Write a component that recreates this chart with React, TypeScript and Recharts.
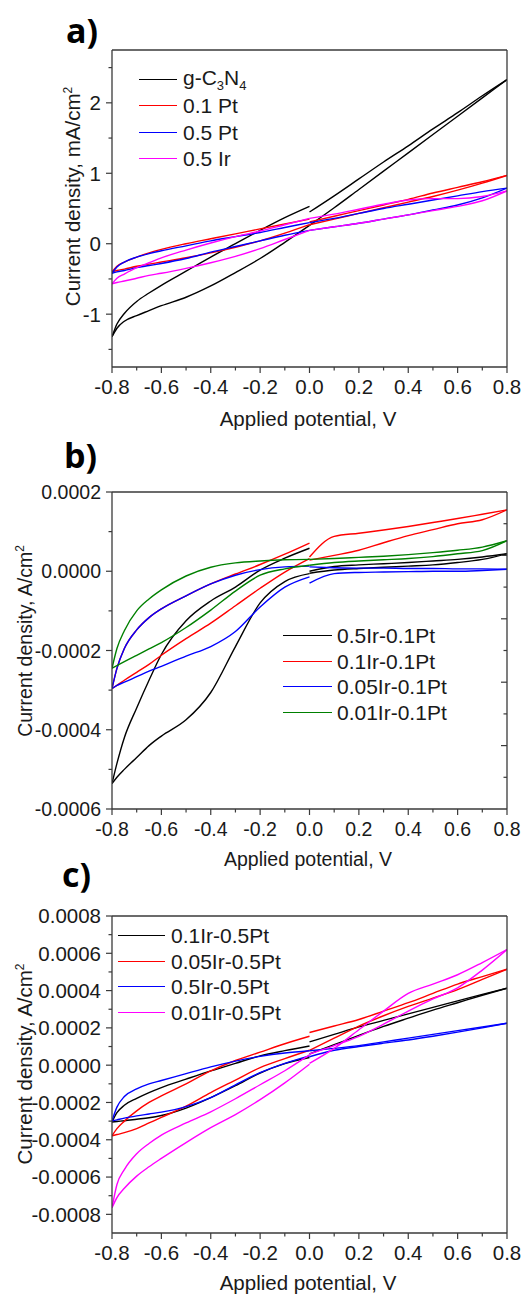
import React from 'react';
import { LineChart, Line, XAxis, YAxis, Legend } from 'recharts';

const FONT = '"Liberation Sans", Arial, sans-serif';
const AXIS = '#3a3a3a';
const INK = '#1a1a1a';

// applied potential grid (V); 0 is listed twice: end of the left half, start of the right half
const POTENTIAL = [-0.8, -0.78, -0.75, -0.7, -0.65, -0.6, -0.5, -0.4, -0.3, -0.2, -0.1, 0, 0, 0.1, 0.2, 0.3, 0.4, 0.5, 0.6, 0.7, 0.8];
const SPLIT = 12;
const X_TICKS = [-0.8, -0.7, -0.6, -0.5, -0.4, -0.3, -0.2, -0.1, 0, 0.1, 0.2, 0.3, 0.4, 0.5, 0.6, 0.7, 0.8];

// a) current density, mA/cm2 (two sweep branches per sample)
const gcnUp = [-1.32, -1.14, -0.99, -0.82, -0.7, -0.59, -0.39, -0.19, 0.0, 0.19, 0.37, 0.53, 0.45, 0.68, 0.92, 1.16, 1.39, 1.63, 1.86, 2.1, 2.33];
const gcnLo = [-1.32, -1.2, -1.1, -1.02, -0.95, -0.88, -0.76, -0.6, -0.41, -0.21, 0.02, 0.26, 0.26, 0.51, 0.77, 1.03, 1.29, 1.55, 1.81, 2.07, 2.33];
const pt01Up = [-0.4, -0.32, -0.26, -0.19, -0.13, -0.08, 0.0, 0.07, 0.14, 0.21, 0.28, 0.35, 0.31, 0.39, 0.47, 0.55, 0.63, 0.72, 0.8, 0.88, 0.97];
const pt01Lo = [-0.4, -0.38, -0.36, -0.32, -0.29, -0.26, -0.2, -0.13, -0.05, 0.04, 0.15, 0.27, 0.27, 0.35, 0.43, 0.51, 0.59, 0.67, 0.76, 0.86, 0.97];
const pt05Up = [-0.42, -0.33, -0.26, -0.19, -0.14, -0.1, -0.03, 0.04, 0.1, 0.16, 0.23, 0.3, 0.3, 0.36, 0.43, 0.5, 0.56, 0.62, 0.68, 0.74, 0.79];
const pt05Lo = [-0.42, -0.4, -0.38, -0.34, -0.31, -0.28, -0.21, -0.12, -0.04, 0.04, 0.12, 0.19, 0.19, 0.24, 0.29, 0.35, 0.41, 0.48, 0.55, 0.65, 0.79];
const ir05Up = [-0.57, -0.49, -0.43, -0.34, -0.27, -0.2, -0.09, 0.01, 0.1, 0.18, 0.27, 0.36, 0.36, 0.42, 0.49, 0.56, 0.62, 0.64, 0.64, 0.67, 0.75];
const ir05Lo = [-0.57, -0.55, -0.53, -0.49, -0.45, -0.42, -0.35, -0.27, -0.18, -0.07, 0.06, 0.19, 0.19, 0.24, 0.29, 0.35, 0.41, 0.47, 0.53, 0.61, 0.75];

// b) current density, x1e-4 A/cm2
const b05IrUp = [-5.36, -4.85, -4.2, -3.45, -2.75, -2.1, -1.25, -0.75, -0.4, 0.03, 0.33, 0.58, 0.0, 0.12, 0.16, 0.19, 0.22, 0.26, 0.3, 0.36, 0.44];
const b05IrLo = [-5.36, -5.2, -5.0, -4.7, -4.4, -4.16, -3.75, -3.06, -1.9, -0.8, -0.26, -0.06, -0.05, 0.03, 0.07, 0.1, 0.13, 0.16, 0.22, 0.3, 0.44];
const b01IrUp = [-2.96, -2.45, -1.95, -1.48, -1.17, -0.95, -0.62, -0.32, -0.07, 0.17, 0.43, 0.71, 0.36, 0.88, 0.96, 1.04, 1.13, 1.23, 1.33, 1.44, 1.55];
const b01IrLo = [-2.96, -2.88, -2.75, -2.55, -2.35, -2.12, -1.7, -1.31, -0.87, -0.43, -0.02, 0.32, 0.28, 0.4, 0.53, 0.72, 0.9, 1.05, 1.2, 1.3, 1.55];
const b005IrUp = [-2.96, -2.45, -1.95, -1.48, -1.17, -0.95, -0.62, -0.32, -0.1, 0.04, 0.11, 0.13, 0.11, 0.09, 0.08, 0.08, 0.07, 0.07, 0.06, 0.06, 0.05];
const b005IrLo = [-2.96, -2.88, -2.8, -2.66, -2.52, -2.4, -2.14, -1.9, -1.52, -0.9, -0.4, -0.14, -0.3, -0.06, -0.03, -0.02, -0.01, 0.0, 0.0, 0.02, 0.05];
const b001IrUp = [-2.45, -1.95, -1.5, -1.0, -0.7, -0.47, -0.12, 0.1, 0.21, 0.26, 0.29, 0.3, 0.3, 0.32, 0.35, 0.38, 0.42, 0.47, 0.53, 0.61, 0.77];
const b001IrLo = [-2.45, -2.38, -2.28, -2.12, -1.96, -1.8, -1.42, -0.98, -0.5, -0.1, 0.06, 0.15, 0.15, 0.22, 0.26, 0.29, 0.32, 0.37, 0.44, 0.52, 0.77];

// c) current density, x1e-4 A/cm2
const c01IrUp = [-3.05, -2.55, -2.15, -1.78, -1.47, -1.2, -0.75, -0.31, 0.1, 0.5, 0.78, 1.03, 1.25, 1.65, 2.05, 2.4, 2.75, 3.1, 3.45, 3.8, 4.13];
const c01IrLo = [-3.05, -3.02, -2.98, -2.9, -2.82, -2.7, -2.3, -1.74, -1.1, -0.42, 0.08, 0.41, 0.6, 1.1, 1.6, 2.08, 2.52, 2.95, 3.35, 3.75, 4.13];
const c005IrUp = [-3.79, -3.4, -3.0, -2.45, -2.0, -1.65, -1.0, -0.31, 0.25, 0.7, 1.15, 1.55, 1.75, 2.1, 2.45, 2.9, 3.35, 3.85, 4.35, 4.75, 5.15];
const c005IrLo = [-3.79, -3.72, -3.62, -3.4, -3.1, -2.8, -2.2, -1.47, -0.8, -0.13, 0.35, 0.8, 0.8, 1.45, 2.1, 2.65, 3.15, 3.6, 4.05, 4.6, 5.15];
const c05IrUp = [-2.99, -2.25, -1.68, -1.27, -1.0, -0.82, -0.45, -0.09, 0.22, 0.47, 0.65, 0.77, 0.77, 0.9, 1.05, 1.25, 1.45, 1.65, 1.85, 2.05, 2.25];
const c05IrLo = [-2.99, -2.93, -2.84, -2.72, -2.62, -2.52, -2.22, -1.74, -1.05, -0.4, 0.1, 0.5, 0.45, 0.8, 1.0, 1.18, 1.35, 1.55, 1.77, 2.0, 2.25];
const c001IrUp = [-7.65, -6.4, -5.6, -4.75, -4.2, -3.75, -3.1, -2.5, -1.8, -1.05, -0.3, 0.55, 0.6, 1.05, 1.55, 2.2, 2.9, 3.55, 4.15, 5.1, 6.2];
const c001IrLo = [-7.65, -7.1, -6.6, -5.95, -5.45, -5.0, -4.15, -3.35, -2.65, -1.85, -0.95, 0.05, 0.1, 0.9, 1.9, 2.9, 3.85, 4.35, 4.85, 5.5, 6.2];

const seriesA = [
  { label: <>g-C<sub style={{ fontSize: 13 }}>3</sub>N<sub style={{ fontSize: 13 }}>4</sub></>, color: '#000000', up: gcnUp, lo: gcnLo },
  { label: '0.1 Pt', color: '#ff0000', up: pt01Up, lo: pt01Lo },
  { label: '0.5 Pt', color: '#0000ff', up: pt05Up, lo: pt05Lo },
  { label: '0.5 Ir', color: '#ff00ff', up: ir05Up, lo: ir05Lo },
];
const seriesB = [
  { label: '0.5Ir-0.1Pt', color: '#000000', up: b05IrUp, lo: b05IrLo },
  { label: '0.1Ir-0.1Pt', color: '#ff0000', up: b01IrUp, lo: b01IrLo },
  { label: '0.05Ir-0.1Pt', color: '#0000ff', up: b005IrUp, lo: b005IrLo },
  { label: '0.01Ir-0.1Pt', color: '#008000', up: b001IrUp, lo: b001IrLo },
];
const seriesC = [
  { label: '0.1Ir-0.5Pt', color: '#000000', up: c01IrUp, lo: c01IrLo },
  { label: '0.05Ir-0.5Pt', color: '#ff0000', up: c005IrUp, lo: c005IrLo },
  { label: '0.5Ir-0.5Pt', color: '#0000ff', up: c05IrUp, lo: c05IrLo },
  { label: '0.01Ir-0.5Pt', color: '#ff00ff', up: c001IrUp, lo: c001IrLo },
];

const Y_TICKS_A = [-1.5, -1, -0.5, 0, 0.5, 1, 1.5, 2, 2.5];
const Y_TICKS_B = [-6, -5, -4, -3, -2, -1, 0, 1, 2];
const RIGHT_TICKS_B = [1.2, 0.4, -0.4, -1.2, -2, -2.8, -3.6, -4.4, -5.2];
const Y_TICKS_C = [-8, -7, -6, -5, -4, -3, -2, -1, 0, 1, 2, 3, 4, 5, 6, 7, 8];

const isMajor = (v: number, step: number) => Math.abs(v / step - Math.round(v / step)) < 1e-6;

// split a branch into its two halves (gap at 0 V)
function halves(vals: number[]) {
  const pts = POTENTIAL.map((x, i) => ({ x, y: vals[i] }));
  return [pts.slice(0, SPLIT), pts.slice(SPLIT)];
}

type Series = { label: React.ReactNode; color: string; up: number[]; lo: number[] };

type PanelProps = {
  top: number;
  height: number;
  marginTop: number;
  xAxisHeight: number;
  fs: number;
  series: Series[];
  yDomain: [number, number];
  yTicks: number[];
  yStep: number;
  yFmt: (v: number) => string;
  rightTicks?: number[];
  legend: { left: number; top: number; lineW: number; gap: number; rowH: number };
};

function Panel(p: PanelProps) {
  const bottomTick = (props: any) => {
    const { x, y, payload } = props;
    const major = isMajor(payload.value, 0.2);
    return (
      <g>
        <line x1={x} x2={x} y1={y} y2={y + (major ? 6 : 3.5)} stroke={AXIS} strokeWidth={1.2} />
        {major && (
          <text x={x} y={y + 27} textAnchor="middle" fontSize={p.fs} fontFamily={FONT} fill={INK}>
            {payload.value.toFixed(1)}
          </text>
        )}
      </g>
    );
  };
  const leftTick = (props: any) => {
    const { x, y, payload } = props;
    const major = isMajor(payload.value, p.yStep);
    return (
      <g>
        <line x1={x - (major ? 6 : 3.5)} x2={x} y1={y} y2={y} stroke={AXIS} strokeWidth={1.2} />
        {major && (
          <text x={x - 11} y={y} dy="0.36em" textAnchor="end" fontSize={p.fs} fontFamily={FONT} fill={INK}>
            {p.yFmt(payload.value)}
          </text>
        )}
      </g>
    );
  };
  const rightTick = (props: any) => {
    const { x, y, index } = props;
    return <line x1={x - (index % 2 ? 6 : 3.5)} x2={x} y1={y} y2={y} stroke={AXIS} strokeWidth={1.2} />;
  };

  const lg = p.legend;
  const legendContent = () => (
    <div style={{ fontFamily: FONT, fontSize: 21, color: INK }}>
      {p.series.map((s, i) => (
        <div key={i} style={{ display: 'flex', alignItems: 'center', height: lg.rowH }}>
          <span style={{ width: lg.lineW, borderTop: `1.6px solid ${s.color}`, marginRight: lg.gap }} />
          <span style={{ lineHeight: 1, whiteSpace: 'nowrap' }}>{s.label}</span>
        </div>
      ))}
    </div>
  );

  return (
    <div style={{ position: 'absolute', left: 0, top: p.top }}>
      <LineChart width={523} height={p.height} margin={{ top: p.marginTop, right: 15, bottom: 0, left: 0 }}>
        <XAxis
          dataKey="x"
          type="number"
          domain={[-0.8, 0.8]}
          allowDataOverflow
          ticks={X_TICKS}
          interval={0}
          tickSize={0}
          tickMargin={0}
          tickLine={false}
          tick={bottomTick}
          height={p.xAxisHeight}
          axisLine={{ stroke: AXIS, strokeWidth: 1.3 }}
        />
        <XAxis xAxisId="top" orientation="top" type="number" domain={[-0.8, 0.8]} height={1} tick={false} tickLine={false} axisLine={{ stroke: AXIS, strokeWidth: 1.3 }} />
        <YAxis
          type="number"
          domain={p.yDomain}
          allowDataOverflow
          ticks={p.yTicks}
          interval={0}
          tickSize={0}
          tickMargin={0}
          tickLine={false}
          tick={leftTick}
          width={112}
          axisLine={{ stroke: AXIS, strokeWidth: 1.3 }}
        />
        <YAxis
          yAxisId="right"
          orientation="right"
          type="number"
          domain={p.yDomain}
          allowDataOverflow
          width={1}
          ticks={p.rightTicks}
          interval={0}
          tickSize={0}
          tickMargin={0}
          tickLine={false}
          tick={p.rightTicks ? rightTick : false}
          axisLine={{ stroke: AXIS, strokeWidth: 1.3 }}
        />
        <Legend
          layout="vertical"
          align="center"
          verticalAlign="middle"
          content={legendContent}
          wrapperStyle={{ left: lg.left, top: lg.top, width: 'auto' }}
        />
        {p.series.flatMap((s, si) =>
          [s.up, s.lo].flatMap((branch, bi) =>
            halves(branch).map((seg, hi) => (
              <Line
                key={`${si}-${bi}-${hi}`}
                data={seg}
                dataKey="y"
                type="monotone"
                stroke={s.color}
                strokeWidth={1.4}
                dot={false}
                activeDot={false}
                isAnimationActive={false}
              />
            ))
          )
        )}
      </LineChart>
    </div>
  );
}

const fmtA = (v: number) => String(v);
const fmtE4 = (v: number) => (v * 1e-4).toFixed(4);

export default function App() {
  const xTitle = 'Applied potential, V';
  return (
    <div style={{ position: 'absolute', left: 0, top: 0, width: 523, height: 1295, background: '#fff' }}>
      <Panel
        top={0}
        height={400}
        marginTop={49}
        xAxisHeight={33}
        fs={20.5}
        series={seriesA}
        yDomain={[-1.75, 2.75]}
        yTicks={Y_TICKS_A}
        yStep={1}
        yFmt={fmtA}
        legend={{ left: 139, top: 66, lineW: 38, gap: 6, rowH: 26.5 }}
      />
      <Panel
        top={430}
        height={410}
        marginTop={61}
        xAxisHeight={31}
        fs={19.5}
        series={seriesB}
        yDomain={[-6, 2]}
        yTicks={Y_TICKS_B}
        yStep={2}
        yFmt={fmtE4}
        rightTicks={RIGHT_TICKS_B}
        legend={{ left: 283, top: 193, lineW: 49, gap: 5, rowH: 25.5 }}
      />
      <Panel
        top={860}
        height={410}
        marginTop={55}
        xAxisHeight={37}
        fs={20.5}
        series={seriesC}
        yDomain={[-9, 8]}
        yTicks={Y_TICKS_C}
        yStep={2}
        yFmt={fmtE4}
        legend={{ left: 118, top: 63, lineW: 47, gap: 6, rowH: 25.5 }}
      />
      <svg width={523} height={1295} style={{ position: 'absolute', left: 0, top: 0, pointerEvents: 'none' }}>
        <g fontFamily='"Open Sans", sans-serif' fontWeight={700} fontSize={34} fill="#000">
          <text x={66} y={43}>a)</text>
          <text x={64} y={468}>b)</text>
          <text x={62} y={887}>c)</text>
        </g>
        <g fontFamily={FONT} fill={INK} textAnchor="middle">
          <text x={308} y={426} fontSize={20.5}>{xTitle}</text>
          <text x={308} y={866} fontSize={19.5}>{xTitle}</text>
          <text x={308} y={1290} fontSize={20.5}>{xTitle}</text>
          <text transform="translate(80,196.5) rotate(-90)" fontSize={20.5}>
            Current density, mA/cm<tspan dy={-8} fontSize={12}>2</tspan>
          </text>
          <text transform="translate(31.5,641) rotate(-90)" fontSize={19.5}>
            Current density, A/cm<tspan dy={-8} fontSize={12}>2</tspan>
          </text>
          <text transform="translate(31.5,1064) rotate(-90)" fontSize={20.5}>
            Current density, A/cm<tspan dy={-8} fontSize={12}>2</tspan>
          </text>
        </g>
      </svg>
    </div>
  );
}
